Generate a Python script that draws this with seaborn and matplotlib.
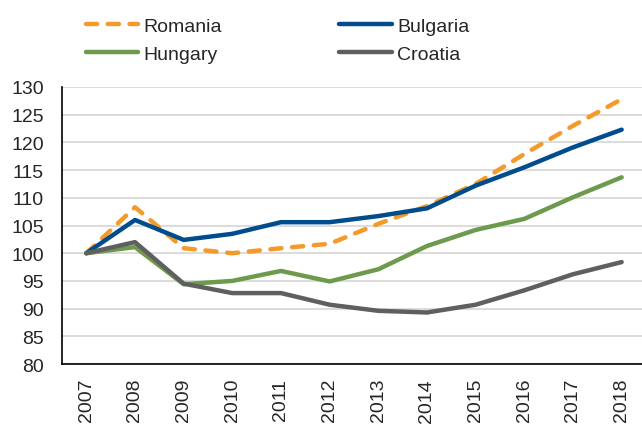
import pandas as pd
import numpy as np
import matplotlib.pyplot as plt
import seaborn as sns

# ==================== DATA ====================
years = list(range(2007, 2019))
romania = [100, 108.3, 100.9, 100.0, 100.9, 101.7, 105.3, 108.5, 112.5, 117.9, 123.0, 127.8]
bulgaria = [100, 106.0, 102.4, 103.5, 105.6, 105.6, 106.7, 108.1, 112.2, 115.5, 119.1, 122.3]
hungary = [100, 101.1, 94.4, 95.0, 96.8, 94.9, 97.1, 101.3, 104.2, 106.2, 110.1, 113.7]
croatia = [100, 102.0, 94.5, 92.8, 92.8, 90.7, 89.6, 89.3, 90.7, 93.3, 96.2, 98.4]
countries = ["Romania", "Bulgaria", "Hungary", "Croatia"]

colors = {"Romania": "#F39A2B", "Bulgaria": "#004C8C",
          "Hungary": "#6E9A4E", "Croatia": "#5F5F5F"}
dashes = {"Romania": (2.5, 2.4), "Bulgaria": "", "Hungary": "", "Croatia": ""}

df = pd.DataFrame({
    "year": years * 4,
    "value": romania + bulgaria + hungary + croatia,
    "country": np.repeat(countries, len(years)),
})

# ==================== PLOT ====================
sns.set_style("white")
plt.rcParams["font.family"] = ["Liberation Sans", "DejaVu Sans"]
plt.rcParams["lines.dash_capstyle"] = "round"
plt.rcParams["lines.solid_capstyle"] = "round"

fig = plt.figure(figsize=(6.42, 4.27), dpi=100)
ax = fig.add_axes([62 / 642, 1 - 365 / 427, (646 - 62) / 642, (365 - 88) / 427])

sns.lineplot(data=df, x="year", y="value", hue="country", style="country",
             palette=colors, dashes=dashes, hue_order=countries, style_order=countries,
             linewidth=3.2, ax=ax, legend=False, zorder=3)

ax.set_xlim(2006.5, 2018.5)
ax.set_ylim(80, 130)
ax.set_yticks(range(80, 131, 5))
ax.set_xticks(years)
ax.set_xticklabels([str(y) for y in years], rotation=90)
ax.tick_params(axis="both", labelsize=14, length=0)
ax.tick_params(axis="y", pad=13)
ax.tick_params(axis="x", pad=10)
ax.yaxis.grid(True, color="#D9D9D9", linewidth=1.3)
ax.set_axisbelow(True)
ax.set_xlabel("")
ax.set_ylabel("")
for s in ["top", "right"]:
    ax.spines[s].set_visible(False)
for s in ["left", "bottom"]:
    ax.spines[s].set_color("black")
    ax.spines[s].set_linewidth(1.2)

# legend in the order Romania, Hungary | Bulgaria, Croatia (column-wise)
order = ["Romania", "Hungary", "Bulgaria", "Croatia"]
handles = [plt.Line2D([], [], color=colors[c], linewidth=3.2,
                      linestyle=(0, dashes[c]) if dashes[c] else "-") for c in order]
fig.legend(handles, order, ncol=2, loc="upper left", bbox_to_anchor=(68 / 642, 0.998),
           frameon=False, fontsize=14, handlelength=2.7, handletextpad=0.3,
           columnspacing=6.0, labelspacing=0.55)

plt.savefig("out.png", dpi=100)
